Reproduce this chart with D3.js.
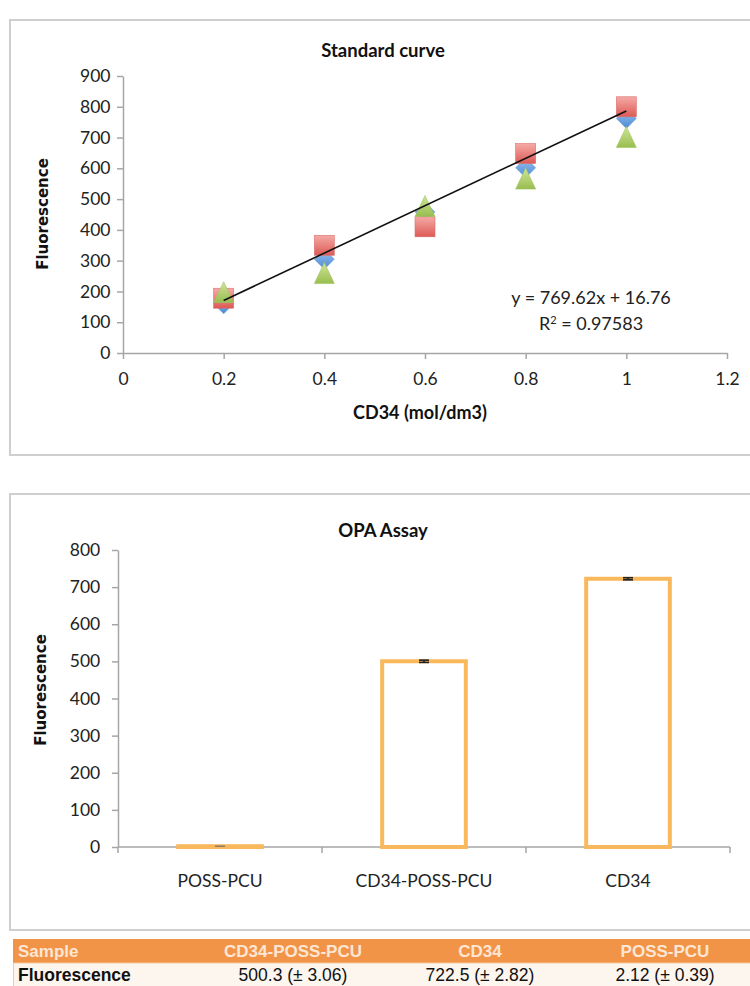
<!DOCTYPE html>
<html>
<head>
<meta charset="utf-8">
<script src="https://cdn.jsdelivr.net/npm/d3@7"></script>
<style>
  html, body { margin: 0; padding: 0; background: #fff; }
  svg { display: block; }
</style>
</head>
<body>
<svg id="chart" width="750" height="986"></svg>
<script>
// ---------- Data ----------
const concentrations = [0.2, 0.4, 0.6, 0.8, 1.0];
const seriesDiamond = [160, 305, 458, 602, 762];   // blue diamonds
const seriesSquare  = [178, 350, 410, 648, 800];   // red squares
const seriesTriangle = [196, 258, 476, 565, 700];  // green triangles
const trendSlope = 769.62;
const trendIntercept = 16.76;
const trendLabel = "y = 769.62x + 16.76";
const r2Label = "0.97583";
const xTicksTop = [0, 0.2, 0.4, 0.6, 0.8, 1, 1.2];
const yTicksTop = [0, 100, 200, 300, 400, 500, 600, 700, 800, 900];

const samples = ["POSS-PCU", "CD34-POSS-PCU", "CD34"];
const fluorescence = [2.12, 500.3, 722.5];
const fluorescenceErr = [0.39, 3.06, 2.82];
const yTicksBottom = [0, 100, 200, 300, 400, 500, 600, 700, 800];

const tableHeader = ["Sample", "CD34-POSS-PCU", "CD34", "POSS-PCU"];
const tableRow = ["Fluorescence", "500.3 (\u00b1 3.06)", "722.5 (\u00b1 2.82)", "2.12 (\u00b1 0.39)"];

// ---------- Setup ----------
const svg = d3.select("#chart");
const axisColor = "#a6a6a6";
const tickFont = "Lato, 'Open Sans', sans-serif";
const titleFont = "Lato, 'Open Sans', sans-serif";
const yTitleFont = "'DejaVu Sans', Verdana, sans-serif";

const defs = svg.append("defs");
function grad(id, c1, c2) {
  const g = defs.append("linearGradient").attr("id", id).attr("x1", 0).attr("y1", 0).attr("x2", 0).attr("y2", 1);
  g.append("stop").attr("offset", "0%").attr("stop-color", c1);
  g.append("stop").attr("offset", "100%").attr("stop-color", c2);
}
grad("gRed", "#f5aaa6", "#dd5a55");
grad("gBlue", "#9cc2ec", "#4b8bd6");
grad("gGreen", "#cfe59a", "#98bd4f");

// ---------- Frames ----------
svg.append("rect").attr("x", 10).attr("y", 20).attr("width", 760).attr("height", 435)
  .attr("fill", "none").attr("stroke", "#cfcfcf").attr("stroke-width", 2);
svg.append("rect").attr("x", 10).attr("y", 494).attr("width", 760).attr("height", 436)
  .attr("fill", "none").attr("stroke", "#cfcfcf").attr("stroke-width", 2);

// ---------- Chart 1: Standard curve ----------
const x1 = d3.scaleLinear().domain([0, 1.2]).range([123, 727]);
const y1 = d3.scaleLinear().domain([0, 900]).range([353, 76]);

const gx1 = svg.append("g").attr("transform", `translate(0,${y1(0)})`)
  .call(d3.axisBottom(x1).tickValues(xTicksTop).tickFormat(d => d3.format("")(d)).tickSize(6).tickSizeOuter(0));
const gy1 = svg.append("g").attr("transform", `translate(${x1(0)},0)`)
  .call(d3.axisLeft(y1).tickValues(yTicksTop).tickSize(6).tickSizeOuter(0));
[gx1, gy1].forEach(g => {
  g.select(".domain").attr("stroke", axisColor).attr("stroke-width", 1.5);
  g.selectAll(".tick line").attr("stroke", axisColor).attr("stroke-width", 1.5);
  g.selectAll(".tick text").attr("fill", "#222").attr("font-family", tickFont).attr("font-size", 17.5);
});
gx1.selectAll(".tick text").attr("dy", "1.3em");
gy1.selectAll(".tick text").attr("dx", "-0.2em");

svg.append("text").attr("x", 383).attr("y", 57).attr("text-anchor", "middle")
  .attr("font-family", titleFont).attr("font-weight", "bold").attr("font-size", 18.5).attr("fill", "#111")
  .text("Standard curve");
svg.append("text").attr("x", 420).attr("y", 419).attr("text-anchor", "middle")
  .attr("font-family", titleFont).attr("font-weight", "bold").attr("font-size", 18).attr("fill", "#111")
  .text("CD34 (mol/dm3)");
svg.append("text").attr("transform", "translate(48,214) rotate(-90)").attr("text-anchor", "middle")
  .attr("font-family", yTitleFont).attr("font-weight", "bold").attr("font-size", 15).attr("fill", "#111")
  .text("Fluorescence");

// markers
const ms = 10;
svg.append("g").selectAll("path").data(concentrations.map((c, i) => [c, seriesDiamond[i]]))
  .join("path")
  .attr("d", d => { const cx = x1(d[0]), cy = y1(d[1]); return `M${cx},${cy - ms}L${cx + ms},${cy}L${cx},${cy + ms}L${cx - ms},${cy}Z`; })
  .attr("fill", "url(#gBlue)").attr("stroke", "#6d9fd8").attr("stroke-width", 0.6);
svg.append("g").selectAll("rect").data(concentrations.map((c, i) => [c, seriesSquare[i]]))
  .join("rect")
  .attr("x", d => x1(d[0]) - ms).attr("y", d => y1(d[1]) - ms).attr("width", ms * 2).attr("height", ms * 2)
  .attr("fill", "url(#gRed)").attr("stroke", "#d9716d").attr("stroke-width", 0.6);
svg.append("g").selectAll("path").data(concentrations.map((c, i) => [c, seriesTriangle[i]]))
  .join("path")
  .attr("d", d => { const cx = x1(d[0]), cy = y1(d[1]); return `M${cx},${cy - ms - 1}L${cx + ms},${cy + ms}L${cx - ms},${cy + ms}Z`; })
  .attr("fill", "url(#gGreen)").attr("stroke", "#a3c463").attr("stroke-width", 0.6);

// trendline
const trendX = [concentrations[0], concentrations[concentrations.length - 1]];
svg.append("path")
  .datum(trendX.map(x => [x, trendSlope * x + trendIntercept]))
  .attr("d", d3.line().x(d => x1(d[0])).y(d => y1(d[1])))
  .attr("stroke", "#111").attr("stroke-width", 1.6).attr("fill", "none");

const eq = svg.append("text").attr("font-family", tickFont).attr("font-size", 18).attr("fill", "#222").attr("text-anchor", "middle");
eq.append("tspan").attr("x", 591).attr("y", 304).text(trendLabel);
const r2 = eq.append("tspan").attr("x", 591).attr("y", 330);
r2.append("tspan").text("R");
r2.append("tspan").attr("baseline-shift", "super").attr("font-size", 11).text("2");
r2.append("tspan").text(" = " + r2Label);

// ---------- Chart 2: OPA Assay ----------
const x2 = d3.scaleBand().domain(samples).range([118, 730]).paddingInner(0.59).paddingOuter(0.295);
const y2 = d3.scaleLinear().domain([0, 800]).range([847, 550]);

const gy2 = svg.append("g").attr("transform", `translate(118,0)`)
  .call(d3.axisLeft(y2).tickValues(yTicksBottom).tickSize(6).tickSizeOuter(0));
gy2.select(".domain").attr("stroke", axisColor).attr("stroke-width", 1.5);
gy2.selectAll(".tick line").attr("stroke", axisColor).attr("stroke-width", 1.5);
gy2.selectAll(".tick text").attr("fill", "#222").attr("font-family", tickFont).attr("font-size", 17.5).attr("dx", "-0.5em");

// x axis line with category boundary ticks
const boundaries = d3.range(samples.length + 1).map(i => x2.range()[0] + i * x2.step());
svg.append("line").attr("x1", 118).attr("x2", 730).attr("y1", y2(0)).attr("y2", y2(0))
  .attr("stroke", axisColor).attr("stroke-width", 1.5);
svg.append("g").selectAll("line").data(boundaries).join("line")
  .attr("x1", d => d).attr("x2", d => d).attr("y1", y2(0)).attr("y2", y2(0) + 6)
  .attr("stroke", axisColor).attr("stroke-width", 1.5);
svg.append("g").selectAll("text").data(samples).join("text")
  .attr("x", d => x2(d) + x2.bandwidth() / 2).attr("y", 887).attr("text-anchor", "middle")
  .attr("font-family", tickFont).attr("font-size", 17.5).attr("fill", "#222").text(d => d);

// bars
svg.append("g").selectAll("rect").data(samples).join("rect")
  .attr("x", d => x2(d)).attr("width", x2.bandwidth())
  .attr("y", (d, i) => y2(fluorescence[i])).attr("height", (d, i) => y2(0) - y2(fluorescence[i]))
  .attr("fill", "#fff").attr("stroke", "#f9b85c").attr("stroke-width", 4);

// error bars
const eb = svg.append("g");
samples.forEach((s, i) => {
  const cx = x2(s) + x2.bandwidth() / 2;
  const v = fluorescence[i], e = fluorescenceErr[i];
  eb.append("line").attr("x1", cx).attr("x2", cx).attr("y1", y2(v - e)).attr("y2", y2(v + e)).attr("stroke", "#222").attr("stroke-width", 1.5);
  [v - e, v + e].forEach(val => {
    eb.append("line").attr("x1", cx - 5).attr("x2", cx + 5).attr("y1", y2(val)).attr("y2", y2(val))
      .attr("stroke", i === 0 ? "#8a7a66" : "#222").attr("stroke-width", i === 0 ? 1 : 1.6);
  });
});

svg.append("text").attr("x", 383).attr("y", 537).attr("text-anchor", "middle")
  .attr("font-family", titleFont).attr("font-weight", "bold").attr("font-size", 18.5).attr("fill", "#111")
  .text("OPA Assay");
svg.append("text").attr("transform", "translate(46,690) rotate(-90)").attr("text-anchor", "middle")
  .attr("font-family", yTitleFont).attr("font-weight", "bold").attr("font-size", 15).attr("fill", "#111")
  .text("Fluorescence");

// ---------- Table ----------
const tableFont = "'Liberation Sans Narrow', 'Liberation Sans', Arial, sans-serif";
svg.append("rect").attr("x", 13).attr("y", 939).attr("width", 745).attr("height", 24).attr("fill", "#f19447");
svg.append("rect").attr("x", 13.5).attr("y", 963).attr("width", 745).attr("height", 30)
  .attr("fill", "#fdf6ef").attr("stroke", "#f6c9a0").attr("stroke-width", 1);
const colX = [18, 293, 480, 665];
tableHeader.forEach((t, i) => {
  svg.append("text").attr("x", colX[i]).attr("y", 957).attr("text-anchor", i === 0 ? "start" : "middle")
    .attr("font-family", tableFont).attr("font-weight", "bold").attr("font-size", 17).attr("fill", "#fde6d4").text(t);
});
tableRow.forEach((t, i) => {
  svg.append("text").attr("x", colX[i]).attr("y", 981).attr("text-anchor", i === 0 ? "start" : "middle")
    .attr("font-family", i === 0 ? "'Liberation Sans', Arial, sans-serif" : tableFont)
    .attr("font-weight", i === 0 ? "bold" : "normal").attr("font-size", i === 0 ? 17.5 : 17.5).attr("fill", "#111").text(t);
});
</script>
</body>
</html>
